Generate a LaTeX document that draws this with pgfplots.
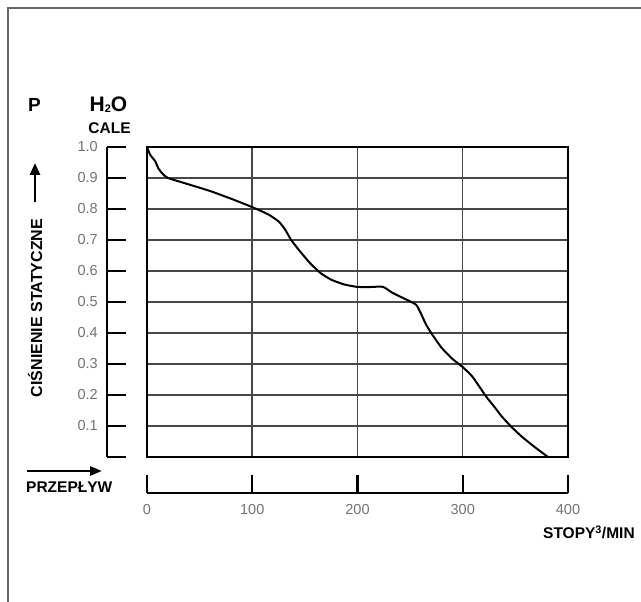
\documentclass[border=0pt]{standalone}
\usepackage{fontspec}
\setmainfont{Liberation Sans}
\usepackage{pgfplots}
\pgfplotsset{compat=1.18}
\usetikzlibrary{arrows.meta}
\definecolor{gridc}{gray}{0.28}
\definecolor{tickc}{gray}{0.45}
\begin{document}
\begin{tikzpicture}[x=1pt,y=1pt]
\useasboundingbox (0,0) rectangle (641,-602);
\draw[line width=1.5pt, black!60] (8,-602) -- (8,-8) -- (641,-8);
% main grid box
\begin{axis}[name=main, at={(147pt,-457pt)}, anchor=south west,
  scale only axis, width=421pt, height=310pt,
  xmin=0, xmax=400, ymin=0, ymax=1,
  xtick={100,200,300}, ytick={0.1,0.2,0.3,0.4,0.5,0.6,0.7,0.8,0.9},
  xticklabels={}, yticklabels={}, major tick length=0pt,
  grid=major, grid style={gridc, line width=1.5pt},
  axis line style={black, line width=2.2pt}]
\addplot[black, line width=2pt, smooth, tension=0.35] coordinates {
(0,1.0) (3,0.975) (7.6,0.955) (11,0.93) (15,0.913) (20,0.9) (40,0.879) (60,0.858)
(80,0.833) (100,0.806) (115,0.783) (125,0.76) (131,0.735) (137,0.70) (145,0.665)
(155,0.625) (165,0.593) (175,0.572) (187,0.557) (199,0.549) (210,0.548) (224,0.549)
(233,0.53) (242,0.515) (250,0.502) (256,0.49) (260,0.465) (265,0.428) (271,0.395)
(280,0.352) (290,0.317) (300,0.29) (309,0.26) (316,0.226) (322,0.196) (330,0.162)
(337,0.131) (346,0.098) (356,0.066) (368,0.033) (381,0)
};
\end{axis}
% left pressure scale
\begin{axis}[at={(107pt,-457pt)}, anchor=south west,
  scale only axis, width=30pt, height=310pt,
  xmin=0, xmax=1, ymin=0, ymax=1,
  axis y line*=left, hide x axis,
  axis line style={black, line width=2.2pt, -},
  ytick={0,0.1,0.2,0.3,0.4,0.5,0.6,0.7,0.8,0.9,1.0},
  yticklabels={,0.1,0.2,0.3,0.4,0.5,0.6,0.7,0.8,0.9,1.0},
  tick align=inside, major tick length=19pt,
  major tick style={black, line width=2.2pt},
  yticklabel style={text=tickc, font=\fontsize{14.5}{16}\selectfont, inner sep=0pt, xshift=-9pt}]
\addplot[draw=none] coordinates {(0,0) (1,1)};
\end{axis}
% bottom flow scale
\begin{axis}[at={(147pt,-493pt)}, anchor=south west,
  scale only axis, width=421pt, height=20pt,
  xmin=0, xmax=400, ymin=0, ymax=1,
  axis x line*=bottom, hide y axis,
  axis line style={black, line width=2.2pt, -},
  xtick={0,100,200,300,400},
  xticklabels={0,100,200,300,400},
  tick align=inside, major tick length=18pt,
  major tick style={black, line width=2.2pt},
  xticklabel style={text=tickc, font=\fontsize{14.5}{16}\selectfont, inner sep=0pt, yshift=-11pt}]
\addplot[draw=none] coordinates {(0,0) (400,1)};
\end{axis}
% texts
\node[font=\fontsize{19}{21}\selectfont\bfseries] at (34.5,-105) {P};
\node[font=\fontsize{21}{23}\selectfont\bfseries] at (108.5,-105) {H\raisebox{-0.05em}{\fontsize{11}{12}\selectfont 2}O};
\node[font=\fontsize{15.5}{17}\selectfont\bfseries] at (109.5,-128) {CALE};
\node[font=\fontsize{16}{18}\selectfont\bfseries, rotate=90] at (35,-308) {CIŚNIENIE STATYCZNE};
\draw[-{Triangle[length=12pt,width=10pt]}, line width=2.6pt] (35,-202) -- (35,-163);
\draw[-{Triangle[length=12pt,width=9pt]}, line width=2.6pt] (27,-471) -- (102,-471);
\node[font=\fontsize{15.5}{17}\selectfont\bfseries, anchor=west, inner sep=0pt] at (26,-487) {PRZEPŁYW};
\node[font=\fontsize{15.5}{17}\selectfont\bfseries, anchor=west, inner sep=0pt] at (543,-532) {STOPY\textsuperscript{3}/MIN};
\end{tikzpicture}
\end{document}
